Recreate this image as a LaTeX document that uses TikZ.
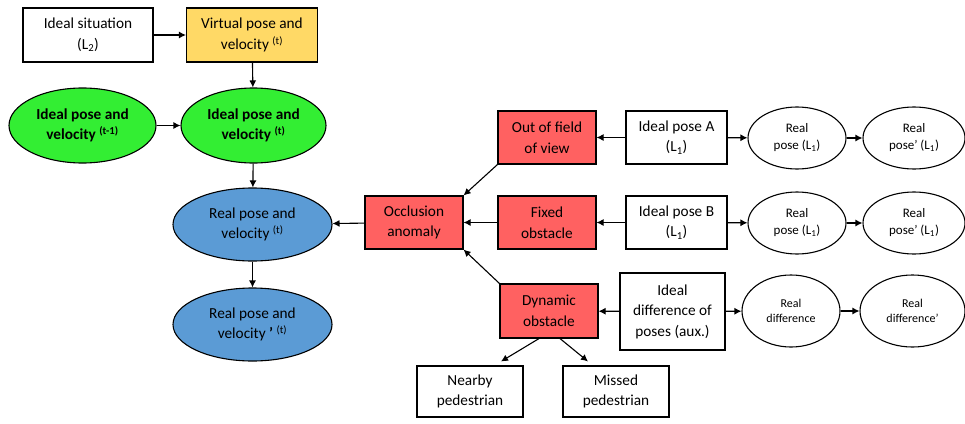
\documentclass[tikz,border=0pt]{standalone}
\usepackage{fontspec}
\setmainfont{Carlito}
\usetikzlibrary{arrows.meta,shapes.geometric}
\definecolor{virtfill}{HTML}{FFD966}
\definecolor{idealfill}{HTML}{33EE33}
\definecolor{realfill}{HTML}{5B9BD5}
\definecolor{anomfill}{HTML}{FF6161}

\begin{document}
\begin{tikzpicture}[>={Latex[length=7pt,width=7pt]},x=1pt,y=-1pt,line width=1.1pt,
  every node/.style={align=center,inner sep=0pt,font=\fontsize{15.3}{20.5}\selectfont},
  box/.style={draw,rectangle,fill=white,minimum width=#1,minimum height=53pt},
  box/.default=98pt,
  anombox/.style={box,fill=anomfill},
  oval/.style={draw,ellipse,minimum width=#1,minimum height=73pt},
  oval/.default=159pt,
  smalloval/.style={draw,ellipse,minimum width=#1,minimum height=62pt,
    font=\fontsize{13}{17}\selectfont},
  smalloval/.default=98pt]
  \useasboundingbox (0,0) rectangle (965,423);
  % top row
  \node[box=130pt,minimum height=54pt] (idealsit) at (88,35) {Ideal situation\\(L\textsubscript{2})};
  \node[box=131pt,minimum height=54pt,fill=virtfill] (virtpv) at (252,35) {Virtual pose and\\velocity \textsuperscript{(t)}};
  % ideal and real poses
  \node[oval=147pt,minimum height=75pt,fill=idealfill,font=\fontsize{15.3}{20.5}\selectfont\bfseries] (idealpvprev) at (82.5,125.5) {Ideal pose and\\velocity \textsuperscript{(t-1)}};
  \node[oval=145pt,minimum height=75pt,fill=idealfill,font=\fontsize{15.3}{20.5}\selectfont\bfseries] (idealpv) at (253.5,125.5) {Ideal pose and\\velocity \textsuperscript{(t)}};
  \node[oval,fill=realfill] (realpv) at (252.5,224.5) {Real pose and\\velocity \textsuperscript{(t)}};
  \node[oval,fill=realfill] (realpvb) at (252.5,324.5) {Real pose and\\velocity \textbf{’} \textsuperscript{(t)}};
  % anomalies
  \node[anombox] (occl) at (414,222.5) {Occlusion\\anomaly};
  \node[anombox] (outview) at (547,137.5) {Out of field\\of view};
  \node[anombox] (fixedobs) at (547,222.5) {Fixed\\obstacle};
  \node[anombox,minimum height=54pt] (dynobs) at (549,311) {Dynamic\\obstacle};
  \node[box=106pt,minimum height=51pt] (nearby) at (470,391.5) {Nearby\\pedestrian};
  \node[box=106pt,minimum height=51pt] (missed) at (616,391.5) {Missed\\pedestrian};
  % ideal L1 poses
  \node[box=101pt] (poseA) at (676.5,137.5) {Ideal pose A\\(L\textsubscript{1})};
  \node[box=101pt] (poseB) at (676.5,222.5) {Ideal pose B\\(L\textsubscript{1})};
  \node[box=105pt,minimum height=77pt] (posediff) at (672.5,311.5) {Ideal\\difference of\\poses (aux.)};
  % real L1 poses
  \node[smalloval] (realA) at (797,138) {Real\\pose (L\textsubscript{1})};
  \node[smalloval=102pt] (realAb) at (914,138) {Real\\pose’ (L\textsubscript{1})};
  \node[smalloval] (realB) at (797,223) {Real\\pose (L\textsubscript{1})};
  \node[smalloval=102pt] (realBb) at (914,223) {Real\\pose’ (L\textsubscript{1})};
  \node[smalloval,minimum height=72pt,font=\fontsize{12}{15.5}\selectfont] (realdiff) at (791,311) {Real\\difference};
  \node[smalloval=105pt,minimum height=72pt,font=\fontsize{12}{15.5}\selectfont] (realdiffb) at (912.5,311) {Real\\difference’};
  % connectors
  \draw[->] (idealsit) -- (virtpv);
  \draw[->] (virtpv) -- (idealpv);
  \draw[->] (idealpvprev) -- (idealpv);
  \draw[->] (idealpv) -- (realpv);
  \draw[->] (realpv) -- (realpvb);
  \draw[->] (occl) -- (realpv);
  \draw[->] (outview.south west) -- (occl.north east);
  \draw[->] (fixedobs) -- (occl);
  \draw[->] (dynobs.north west) -- (occl.south east);
  \draw[->] ([xshift=-10pt]dynobs.south) -- ([xshift=31pt,yshift=4pt]nearby.north);
  \draw[->] ([xshift=11pt]dynobs.south) -- ([xshift=-28pt,yshift=4pt]missed.north);
  \draw[->] (poseA) -- (outview);
  \draw[->] (poseB) -- (fixedobs);
  \draw[->] (posediff) -- (dynobs);
  \draw[->] (poseA) -- (realA);
  \draw[->] (poseB) -- (realB);
  \draw[->] (posediff) -- (realdiff);
  \draw[->] (realA) -- (realAb);
  \draw[->] (realB) -- (realBb);
  \draw[->] (realdiff) -- (realdiffb);
\end{tikzpicture}
\end{document}
